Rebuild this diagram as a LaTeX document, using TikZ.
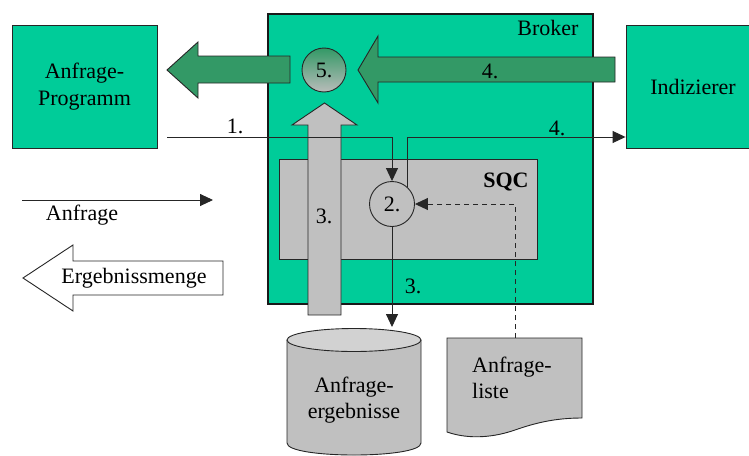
\documentclass[tikz,border=0pt]{standalone}
\usepackage{fontspec}
\setmainfont{Liberation Serif}
\newfontfamily\diagfont{Liberation Serif}
\usetikzlibrary{arrows.meta}
\definecolor{boxgreen}{RGB}{0,204,153}
\definecolor{arrowgreen}{RGB}{51,153,102}
\definecolor{boxgray}{RGB}{192,192,192}
\definecolor{cyltop}{RGB}{210,210,210}
\definecolor{circgray}{RGB}{185,188,186}
\begin{document}
\begin{tikzpicture}[x=1pt,y=-1pt,
  font=\diagfont\fontsize{22}{26.5}\selectfont,
  greenbox/.style={draw=black!85, fill=boxgreen, line width=0.9pt, align=center, inner sep=0pt},
  graybox/.style={draw=black!85, fill=boxgray, line width=0.9pt, inner sep=0pt},
  stepcircle/.style={circle, draw=black!85, line width=0.9pt, inner sep=0pt, minimum size=45pt},
  lbl/.style={inner sep=0pt},
  conn/.style={line width=0.9pt, draw=black!85, -{Triangle[length=13pt,width=12pt]}},
  bigarrow/.style={draw=black!85, line width=0.9pt}
]
\fill[white] (0,0) rectangle (749,455);
\clip (0,0) rectangle (749,455);

% main boxes
\node[greenbox, minimum width=145pt, minimum height=123pt] (prog) at (84.5,86.5) {Anfrage-\\Programm};
\node[greenbox, minimum width=134pt, minimum height=123pt] (idx) at (693,86.5) {Indizierer};
\node[greenbox, draw=black!90, line width=1.5pt, minimum width=325pt, minimum height=290pt] (broker) at (430.5,159) {};
\node[lbl] (brokerlbl) at (548,28) {Broker};

% SQC
\node[graybox, minimum width=258pt, minimum height=100pt] (sqc) at (408,209) {};
\node[lbl, font=\diagfont\fontsize{22}{26.5}\selectfont\bfseries] (sqclbl) at (506,182) {SQC};

% big green arrows
\draw[bigarrow, fill=arrowgreen] (290,56) -- (198,56) -- (198,42) -- (167,70) -- (198,98) -- (198,83) -- (290,83) -- cycle;
\draw[bigarrow, fill=arrowgreen] (615,57) -- (378,57) -- (378,36) -- (358,70) -- (378,103) -- (378,82) -- (615,82) -- cycle;
\node[lbl] (l4a) at (490,71) {4.};

% circle 5
\node[stepcircle, minimum size=44pt, top color=arrowgreen, bottom color=circgray] (c5) at (324,70) {5.};

% gray up arrow
\draw[bigarrow, fill=boxgray] (308,315) -- (308,125) -- (292,125) -- (324.5,103) -- (357,125) -- (341,125) -- (341,315) -- cycle;
\node[lbl] (l3a) at (324,216) {3.};

% circle 2
\node[stepcircle, fill=boxgray] (c2) at (392,204) {2.};

% cylinder
\fill[boxgray, draw=black!85, line width=0.9pt] (287,340) -- (287,443) .. controls (287,459) and (421,459) .. (421,443) -- (421,340);
\draw[black!85, line width=0.9pt, fill=cyltop] (354,340) ellipse [x radius=67, y radius=11.5];
\node[lbl, align=center] (db) at (354,400) {Anfrage-\\ergebnisse};
\coordinate (dbtop) at (392,327);

% document
\draw[black!85, line width=0.9pt, fill=boxgray] (447,338) -- (582,338) -- (582,418) .. controls (555,418) and (535,423) .. (515,430) .. controls (495,437) and (470,440) .. (447,432) -- cycle;
\node[lbl, align=left, anchor=west] (doc) at (472,378) {Anfrage-\\liste};
\coordinate (doctop) at (515,338);

% connectors
\coordinate (l1start) at (167,137);
\draw[conn] (l1start) -| (c2.north);
\node[lbl] (l1) at (235,126) {1.};
\draw[conn] (c2.48) |- (idx.west |- l1start);
\node[lbl] (l4b) at (557,128) {4.};
\draw[conn] (c2.south) -- (dbtop);
\node[lbl] (l3b) at (413,286) {3.};
\draw[conn, dash pattern=on 5.5pt off 3.5pt] (doctop) |- (c2.east);

% legend
\coordinate (lega) at (22,200);
\coordinate (legb) at (213,200);
\draw[conn] (lega) -- (legb);
\node[lbl] (leganfrage) at (82,215) {Anfrage};
\draw[bigarrow, fill=white] (223,261) -- (73,261) -- (73,245) -- (23,278) -- (73,311) -- (73,295) -- (223,295) -- cycle;
\node[lbl] (legerg) at (134,278) {Ergebnissmenge};
\end{tikzpicture}
\end{document}
